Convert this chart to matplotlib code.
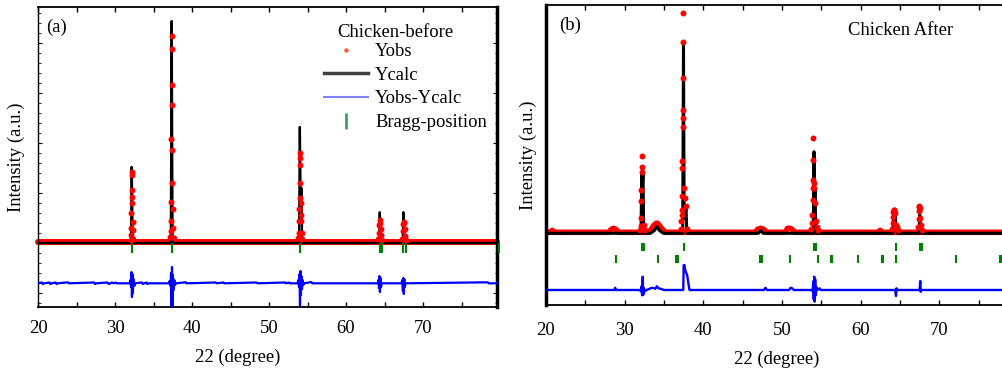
import matplotlib
matplotlib.use('Agg')
import matplotlib.pyplot as plt
from matplotlib.lines import Line2D
from matplotlib.ticker import MultipleLocator

plt.rcParams['font.family'] = ['Liberation Serif', 'DejaVu Serif']
FS = 13.4

# ---------------- Panel (a): Chicken-before ----------------
a_bg_x = [20.0, 79.6]
a_bg_y = [1.0, 1.0]
a_obs_x = [32.02, 32.08, 32.12, 32.14, 32.16, 32.18, 32.20, 32.22, 32.24, 32.28, 32.34, 32.40,
           37.18, 37.24, 37.28, 37.31, 37.33, 37.35, 37.37, 37.39, 37.41, 37.43, 37.46, 37.50, 37.56, 37.62,
           53.82, 53.88, 53.92, 53.95, 53.97, 53.99, 54.01, 54.04, 54.08, 54.12, 54.16, 54.20, 54.26, 54.32,
           64.20, 64.28, 64.32, 64.36, 64.42, 64.50, 64.58, 64.66,
           67.28, 67.34, 67.40, 67.46, 67.52, 67.60, 67.68, 67.76]
a_obs_y = [3, 8, 15, 30, 46, 71, 68, 53, 40, 21, 13, 4,
           6, 12, 22, 41, 104, 158, 207, 194, 138, 93, 60, 34, 15, 5,
           5, 10, 22, 34, 60, 85, 90, 78, 45, 40, 28, 22, 10, 4,
           4, 10, 18, 23, 20, 14, 8, 3,
           4, 12, 19, 21, 20, 14, 7, 3]
a_calc_x = [20.0, 32.08, 32.17, 32.26, 32.35, 37.25, 37.36, 37.47, 53.90, 54.00, 54.10, 54.20, 54.30,
            64.28, 64.38, 64.48, 64.56, 67.35, 67.45, 67.55, 67.65, 79.6]
a_calc_y = [0, 0, 76, 20, 0, 0, 222, 0, 0, 116, 40, 55, 0,
            0, 30.7, 8, 0, 0, 30.7, 8, 0, 0]
a_diff_x = [20.0, 20.5, 20.6, 20.8, 21.5, 21.6, 21.8, 22.3, 22.4, 22.6, 23.9, 24.0, 27.3, 27.4, 27.6,
            29.0, 29.2, 29.6, 29.8, 30.1, 30.2,
            31.9, 32.0, 32.08, 32.14, 32.2, 32.26, 32.32, 32.4, 32.5, 32.6,
            33.5, 33.6, 34.1, 34.2, 34.4,
            37.0, 37.1, 37.2, 37.28, 37.34, 37.4, 37.46, 37.52, 37.6, 37.7, 37.8, 37.9,
            39.2, 39.3, 43.1, 43.2, 44.1, 44.2, 48.4, 48.5, 52.1, 52.2, 52.6, 52.7,
            53.7, 53.8, 53.9, 53.96, 54.02, 54.08, 54.14, 54.2, 54.28, 54.36, 54.46, 54.56,
            55.5, 55.6,
            64.1, 64.2, 64.28, 64.34, 64.4, 64.46, 64.54, 64.62,
            67.2, 67.3, 67.38, 67.44, 67.5, 67.56, 67.64, 67.72,
            78.4, 78.5, 79.6]
a_diff_y = [-40.3, -39.5, -41.0, -40.3, -39.5, -41.0, -40.3, -39.5, -41.0, -40.3, -39.3, -40.3, -39.5, -41.0, -40.3,
            -39.5, -41.0, -39.5, -40.3, -39.5, -40.3,
            -40.3, -37, -44, -29, -54, -31, -50, -36, -43, -40.3,
            -39.5, -41.0, -39.5, -41.0, -40.3,
            -40.3, -38, -43, -30, -66, -24, -66, -32, -47, -37, -42, -40.3,
            -39.3, -40.3, -39.5, -40.3, -39.5, -40.3, -39.5, -40.3, -39.5, -40.3, -39.5, -40.3,
            -40.3, -37, -44, -31, -65, -28, -52, -33, -46, -37, -42, -40.3,
            -39, -40.3,
            -40.3, -37, -45, -33, -49, -35, -44, -40.3,
            -40.3, -37, -48, -35, -51, -36, -44, -40.3,
            -39.3, -40.3, -40.3]
a_bragg = [32.17, 37.36, 54.02, 64.36, 64.70, 67.45, 67.80, 79.9]

# ---------------- Panel (b): Chicken After ----------------
b_bg_x = [20.0, 20.6, 20.8, 21.0, 28.0, 28.3, 28.6, 28.9, 29.2, 33.0, 33.4, 33.7, 34.0, 34.2, 34.5,
          34.8, 35.2, 46.6, 46.9, 47.3, 47.7, 48.0, 50.4, 50.7, 51.0, 51.3, 51.6, 62.3, 62.5, 62.7, 78.1]
b_bg_y = [1, 1, 3, 1, 1, 4, 5, 4, 1, 1, 4, 8, 10, 10, 7,
          4, 1, 1, 4, 5, 4, 1, 1, 5, 5, 4, 1, 1, 3, 1, 1]
b_obs_x = [31.98, 32.04, 32.08, 32.11, 32.13, 32.15, 32.17, 32.19, 32.45, 32.55,
           37.10, 37.18, 37.24, 37.28, 37.31, 37.33, 37.35, 37.37, 37.38, 37.40, 37.41, 37.42, 37.45,
           37.60, 37.72, 37.83, 37.95,
           53.75, 53.82, 53.86, 53.89, 53.92, 53.94, 53.96, 53.98, 54.02, 54.10, 54.15, 54.30, 54.45, 54.60,
           64.05, 64.10, 64.13, 64.16, 64.20, 64.26, 64.34, 64.55, 64.62, 64.70,
           67.30, 67.36, 67.40, 67.44, 67.48, 67.52, 67.58, 67.66, 67.75]
b_obs_y = [3, 7, 15, 32, 43, 61, 66, 77, 8, 3,
           4, 12, 18, 23, 37, 65, 72, 106, 115, 123, 155, 220, 191,
           45, 35, 27, 4,
           4, 10, 18, 33, 45, 53, 73, 95, 50, 45, 30, 12, 6, 3,
           4, 10, 16, 21, 23, 23, 20, 8, 6, 3,
           6, 14, 22, 26, 27, 25, 15, 8, 3]
b_calc_x = [20.0, 32.08, 32.17, 32.25, 32.33, 32.42, 33.3, 33.8, 34.1, 34.4, 34.9,
            37.38, 37.48, 37.56, 37.72, 37.80, 37.90, 47.0, 47.3, 47.6,
            53.98, 54.07, 54.13, 54.20, 54.30, 64.10, 64.20, 64.30, 64.40, 64.48, 64.60, 64.70,
            67.42, 67.52, 67.60, 67.68, 67.78, 78.1]
b_calc_y = [0, 0, 60.7, 45, 60.7, 0, 0, 3, 6.7, 3, 0,
            0, 188, 15, 20, 27, 0, 0, 3, 0,
            0, 81.6, 30, 45, 0, 0, 22.6, 16, 22.6, 6, 6, 0,
            0, 18.3, 10, 7, 0, 0]
b_diff_x = [20.0, 28.7, 28.8, 28.9, 31.9, 32.05, 32.15, 32.22, 32.3, 32.36, 32.45, 32.6, 32.8,
            33.3, 33.6, 33.9, 34.1, 34.3, 34.6, 35.0,
            37.45, 37.5, 37.6, 37.7, 37.85, 37.95, 38.1, 38.25,
            47.7, 47.9, 48.1, 50.9, 51.1, 51.3, 51.5,
            53.8, 53.9, 53.98, 54.04, 54.1, 54.16, 54.22, 54.3, 54.4, 54.5, 54.8, 54.9,
            64.4, 64.5, 64.55, 64.65, 67.5, 67.58, 67.64, 67.72, 78.1]
b_diff_y = [-56.7, -56.7, -54.5, -56.7, -56.7, -58, -53, -62, -43.4, -61.7, -55, -58, -56.7,
            -55, -54.5, -55.5, -53, -55, -55.5, -56.7,
            -56.7, -32, -31.7, -37, -40, -42, -50, -56.7,
            -56.7, -54.5, -56.7, -56.7, -54.5, -55, -56.7,
            -56.7, -58, -48, -66, -43.4, -68.4, -46, -62, -54, -56.7, -55, -56.7,
            -56.7, -62.7, -55, -56.7, -56.7, -47.7, -58.5, -56.7, -56.7]
b_bragg1 = [32.2, 32.4, 37.55, 54.1, 54.3, 64.5, 67.55, 67.75]
b_bragg2 = [28.93, 34.23, 36.58, 36.73, 47.25, 47.4, 51.04, 54.55, 56.18, 56.33, 59.68,
            62.75, 62.9, 64.5, 72.14, 77.75, 77.9]

RED, BLACK, BLUE, GREEN = '#ff0000', '#000000', '#0000ff', '#008000'

W, H = 1003, 370
fig = plt.figure(figsize=(W / 100, H / 100), dpi=100)


def px_axes(l, r, t, b):
    return fig.add_axes([l / W, (H - b) / H, (r - l) / W, (b - t) / H])


axa = px_axes(38, 497, 7, 307)
axb = px_axes(546, 1003, 5, 305)

# ---- panel a drawing ----
axa.plot(a_bg_x, a_bg_y, color=RED, lw=4.3, solid_capstyle='round', zorder=2, clip_on=False)
axa.plot(a_calc_x, a_calc_y, color=BLACK, lw=1.7, zorder=3)
axa.plot(a_obs_x, a_obs_y, 'o', color=RED, ms=4.3, mew=0, zorder=4)
axa.plot(a_diff_x, a_diff_y, color=BLUE, lw=1.6, zorder=3)
axa.plot(a_bragg, [-5.4] * len(a_bragg), '|', color=GREEN, ms=7.2, mew=1.5, zorder=3, clip_on=False)
axa.set_xlim(20, 79.6)
axa.set_ylim(-64, 236)

# ---- panel b drawing ----
axb.plot(b_bg_x, b_bg_y, color=RED, lw=4.0, zorder=2)
axb.plot(b_calc_x, b_calc_y, color=BLACK, lw=2.2, zorder=3)
axb.plot(b_obs_x, b_obs_y, 'o', color=RED, ms=4.3, mew=0, zorder=4)
axb.plot(b_diff_x, b_diff_y, color=BLUE, lw=1.7, zorder=3)
axb.plot(b_bragg1, [-14] * len(b_bragg1), '|', color=GREEN, ms=5.6, mew=1.5, zorder=3)
axb.plot(b_bragg2, [-25.7] * len(b_bragg2), '|', color=GREEN, ms=6.0, mew=1.5, zorder=3)
axb.set_xlim(20, 78.1)
axb.set_ylim(-71.7, 228.3)

for ax in (axa, axb):
    ax.xaxis.set_major_locator(MultipleLocator(10))
    ax.xaxis.set_minor_locator(MultipleLocator(5))
    ax.tick_params(axis='x', which='both', direction='in', top=True, bottom=True,
                   length=3.6, width=1.0, labelsize=FS, pad=9.5)
    ax.set_yticklabels([])

axa.yaxis.set_major_locator(MultipleLocator(50))
axa.yaxis.set_minor_locator(MultipleLocator(10))
axa.tick_params(axis='y', which='major', direction='in', left=True, right=True, length=3, width=0.8)
axa.tick_params(axis='y', which='minor', direction='in', left=True, right=True, length=1.8, width=0.6)
axb.tick_params(axis='y', which='both', left=False, right=False)
axb.tick_params(axis='x', pad=12.5)

axa.spines['left'].set_linewidth(1.0)
axa.spines['right'].set_linewidth(2.5)
axa.spines['top'].set_linewidth(1.3)
axa.spines['bottom'].set_linewidth(1.3)
axb.spines['left'].set_linewidth(2.5)
axb.spines['top'].set_linewidth(1.3)
axb.spines['bottom'].set_linewidth(1.3)
axb.spines['right'].set_visible(False)

axa.set_xlabel('22 (degree)', fontsize=FS)
axa.xaxis.set_label_coords(0.436, -0.14)
axa.set_ylabel('Intensity (a.u.)', fontsize=FS)
axa.yaxis.set_label_coords(-0.028, 0.5)
axb.set_xlabel('22 (degree)', fontsize=FS)
axb.xaxis.set_label_coords(0.505, -0.152)
axb.set_ylabel('Intensity (a.u.)', fontsize=FS)
axb.yaxis.set_label_coords(-0.0186, 0.5)

axa.text(0.017, 0.962, '(a)', transform=axa.transAxes, fontsize=FS, ha='left', va='top')
axb.text(0.029, 0.962, '(b)', transform=axb.transAxes, fontsize=FS, ha='left', va='top')
axb.text(0.660, 0.90, 'Chicken After', transform=axb.transAxes, fontsize=FS, ha='left', va='baseline')

axa.text((395.5 - 38) / 459, (307 - 33) / 300, 'Chicken-before', transform=axa.transAxes,
         fontsize=FS, ha='center', va='center')
handles = [
    Line2D([], [], ls='none', marker='o', color='#ff5a3c', ms=3.2, mew=0),
    Line2D([], [], color='#404040', lw=2.5),
    Line2D([], [], color='#8080ff', lw=1.5),
    Line2D([], [], ls='none', marker='|', color='#40a060', ms=12, mew=2),
]
labels = ['Yobs', 'Ycalc', 'Yobs-Ycalc', 'Bragg-position']
axa.legend(handles, labels, loc='upper left', bbox_to_anchor=((324 - 38) / 459, (307 - 43) / 300),
           frameon=False, fontsize=FS, borderpad=0, borderaxespad=0, handlelength=2.37,
           handletextpad=0.38, labelspacing=0.36)

fig.savefig('out.png', dpi=100)
